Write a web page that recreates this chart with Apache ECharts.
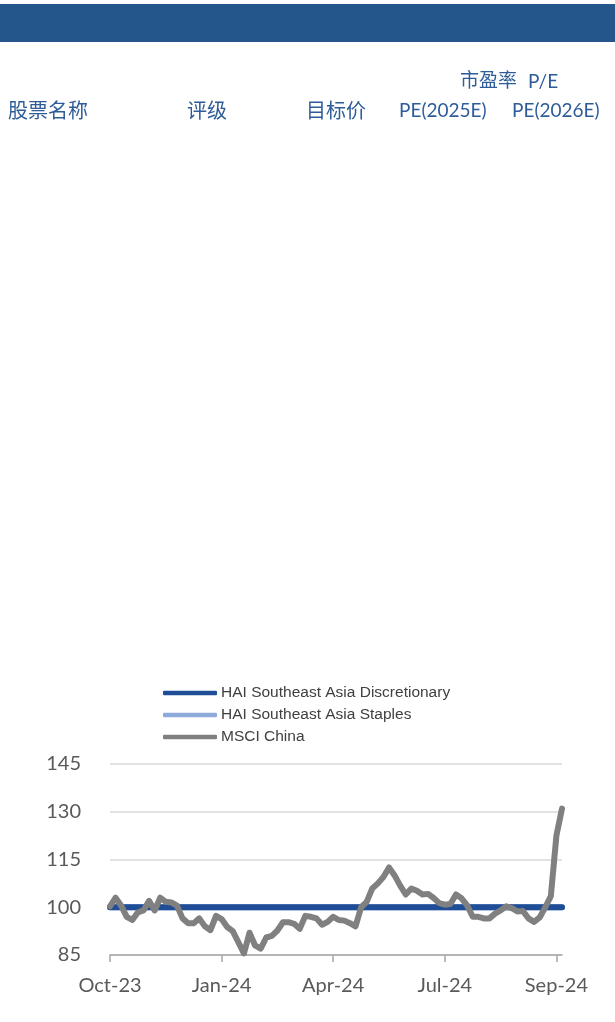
<!DOCTYPE html>
<html>
<head>
<meta charset="utf-8">
<script src="https://cdn.jsdelivr.net/npm/echarts@6/dist/echarts.min.js"></script>
<style>
  html, body { margin: 0; padding: 0; background: #ffffff; }
  #chart { width: 615px; height: 1022px; }
</style>
</head>
<body>
<div id="chart"></div>
<script>
// Table header texts
const headerGroupCjk = '市盈率';
const headerGroupLatin = 'P/E';
const headerColumns = ['股票名称', '评级', '目标价', 'PE(2025E)', 'PE(2026E)'];

// Series names
const seriesNames = ['HAI Southeast Asia Discretionary', 'HAI Southeast Asia Staples', 'MSCI China'];

// X axis tick labels (one every 20 points)
const tickLabels = ['Oct-23', 'Jan-24', 'Apr-24', 'Jul-24', 'Sep-24'];
const tickStep = 20;

// Index levels (rebased to 100)
const msciChina = [
  100.3, 103.0, 100.5, 97.0, 96.0, 98.4, 99.0, 102.0, 99.0, 103.0,
  101.7, 101.5, 100.5, 96.5, 95.0, 95.0, 96.5, 94.0, 92.8, 97.3,
  96.3, 93.8, 92.5, 89.0, 85.5, 92.0, 88.0, 87.0, 90.5, 91.0,
  92.7, 95.3, 95.3, 94.8, 93.2, 97.3, 97.0, 96.5, 94.5, 95.4,
  97.0, 96.0, 95.8, 95.0, 94.0, 100.0, 101.7, 105.9, 107.5, 109.5,
  112.5, 110.0, 106.8, 104.0, 105.9, 105.2, 104.0, 104.2, 102.9, 101.3,
  100.8, 101.0, 104.0, 102.8, 100.6, 97.0, 97.0, 96.5, 96.5, 98.0,
  99.0, 100.3, 99.7, 98.7, 98.8, 96.5, 95.4, 96.8, 100.0, 103.5,
  122.5, 131.0
];
const seaDiscretionary = msciChina.map(() => 100);
const seaStaples = msciChina.map(() => 100);

const categories = msciChina.map((_, i) => i);

const blueText = '#2e5c99';
const cjkFont = '"Noto Sans CJK SC", sans-serif';
const latinFont = 'Lato, "Liberation Sans", sans-serif';

const chart = echarts.init(document.getElementById('chart'), null, { renderer: 'canvas' });

const headerX = [8, 187, 306, 399, 512];

chart.setOption({
  backgroundColor: '#ffffff',
  animation: false,
  graphic: [
    { type: 'rect', left: 0, top: 4, shape: { width: 615, height: 38 }, style: { fill: '#24558b' } },
    {
      type: 'text', left: 460, top: 70,
      style: { text: headerGroupCjk, fill: blueText, font: '19px ' + cjkFont }
    },
    {
      type: 'text', left: 528, top: 72,
      style: { text: headerGroupLatin, fill: blueText, font: '19px ' + latinFont }
    },
    ...headerColumns.map((t, i) => ({
      type: 'text', left: headerX[i], top: i < 3 ? 100 : 101,
      style: {
        text: t, fill: blueText,
        font: (i < 3 ? '20px ' + cjkFont : '19px ' + latinFont)
      }
    }))
  ],
  legend: {
    data: seriesNames,
    orient: 'vertical',
    left: 158,
    top: 680,
    itemWidth: 54,
    itemHeight: 4.5,
    itemGap: 6,
    icon: 'roundRect',
    textStyle: { fontSize: 15.5, color: '#404040', fontFamily: '"Liberation Sans", Arial, sans-serif', padding: [0, 0, 0, -1] }
  },
  grid: { left: 110, right: 53, top: 764, bottom: 67 },
  xAxis: {
    type: 'category',
    data: categories,
    boundaryGap: false,
    axisLine: { lineStyle: { color: '#a6a6a6', width: 1.5 } },
    axisTick: { show: true, interval: (i) => i % tickStep === 0, length: 7, lineStyle: { color: '#a6a6a6', width: 1.5 } },
    axisLabel: {
      interval: (i) => i % tickStep === 0,
      formatter: (v) => tickLabels[Math.round(v / tickStep)] || '',
      fontSize: 20, color: '#595959', margin: 21,
      fontFamily: latinFont
    },
    splitLine: { show: false }
  },
  yAxis: {
    type: 'value',
    min: 85, max: 145, interval: 15,
    axisLine: { show: false },
    axisTick: { show: false },
    axisLabel: { fontSize: 20, color: '#595959', margin: 29, fontFamily: latinFont },
    splitLine: { lineStyle: { color: '#d9d9d9', width: 1.5 } }
  },
  series: [
    {
      name: seriesNames[1], type: 'line', data: seaStaples, showSymbol: false,
      lineStyle: { color: '#8eaadb', width: 6, cap: 'round' }, itemStyle: { color: '#8eaadb' }, z: 2
    },
    {
      name: seriesNames[0], type: 'line', data: seaDiscretionary, showSymbol: false,
      lineStyle: { color: '#1f4e96', width: 6, cap: 'round' }, itemStyle: { color: '#1f4e96' }, z: 3
    },
    {
      name: seriesNames[2], type: 'line', data: msciChina, showSymbol: false,
      lineStyle: { color: '#808080', width: 6, cap: 'round', join: 'round' }, itemStyle: { color: '#808080' }, z: 4
    }
  ]
});
</script>
</body>
</html>
